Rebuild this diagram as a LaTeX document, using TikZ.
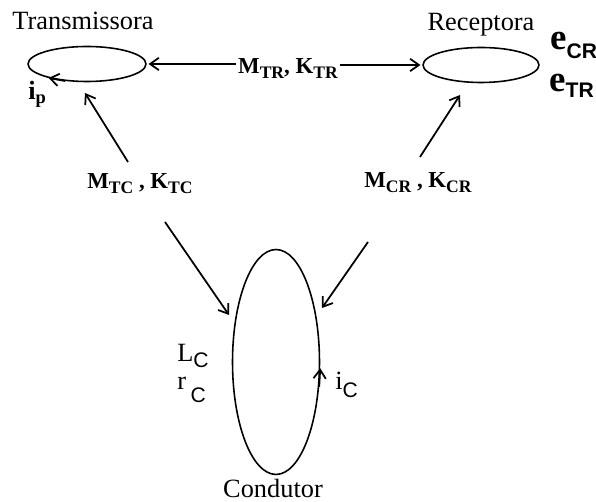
\documentclass[tikz,border=0pt]{standalone}
\usepackage{fontspec}
\setmainfont{Liberation Serif}
\newfontfamily\subsans{Liberation Sans}
\usetikzlibrary{shapes.geometric, arrows.meta, positioning}

\newcommand{\lowsub}[2][-3pt]{\raisebox{#1}{\fontsize{12}{14}\selectfont\subsans #2}}
\newcommand{\msub}[1]{\raisebox{-2.5pt}{\fontsize{10}{12}\selectfont #1}}

\begin{document}
\begin{tikzpicture}[x=0.02cm, y=-0.02cm,
  coil/.style={ellipse, draw, line width=0.9pt, inner sep=0pt},
  title/.style={font=\fontsize{15}{18}\selectfont, anchor=base},
  mlabel/.style={font=\fontsize{13}{15}\selectfont\bfseries, anchor=base, inner sep=1pt},
  plain/.style={font=\fontsize{15}{18}\selectfont, anchor=base west, inner sep=0pt},
  arrowline/.style={-{Straight Barb[length=5pt,width=7pt]}, line width=1pt}
]
  \useasboundingbox (0,0) rectangle (596,502);

  % coils
  \node[coil, minimum width=2.36cm, minimum height=0.7cm] (trans) at (87,64) {};
  \node[coil, minimum width=2.32cm, minimum height=0.7cm] (rec) at (481,65) {};
  \node[coil, minimum width=1.74cm, minimum height=4.5cm] (cond) at (276,362) {};

  % names
  \node[title] (tname) at (83,30) {Transmissora};
  \node[title] (rname) at (481,31) {Receptora};
  \node[title] (cname) at (273,498) {Condutor};

  % couplings
  \node[mlabel] (mtr) at (288,74) {M\msub{TR}, K\msub{TR}};
  \node[mlabel] (mtc) at (140,189) {M\msub{TC} , K\msub{TC}};
  \node[mlabel] (mcr) at (418,188) {M\msub{CR} , K\msub{CR}};

  \coordinate (tc-a) at (128,162);
  \coordinate (tc-b) at (85,93);
  \coordinate (cr-a) at (420,157);
  \coordinate (cr-b) at (460,95);
  \coordinate (tc-c) at (165,222);
  \coordinate (tc-d) at (229,315);
  \coordinate (cr-c) at (368,242);
  \coordinate (cr-d) at (322,308);

  \draw[arrowline, shorten >=1pt] (mtr.west |- trans.center) -- (trans.east);
  \draw[arrowline, shorten >=1pt] (mtr.east |- rec.center) -- (rec.west);
  \draw[arrowline] (tc-a) -- (tc-b);
  \draw[arrowline] (cr-a) -- (cr-b);
  \draw[arrowline] (tc-c) -- (tc-d);
  \draw[arrowline] (cr-c) -- (cr-d);

  % currents
  \draw[arrowline] (trans.218) -- (trans.200);
  \draw[arrowline] (cond.-30) -- (cond.-8);

  % other labels
  \node[plain] (ip) at (28,100) {\textbf{i}\textsubscript{\textbf{p}}};
  \node[plain] (lc) at (177,362) {L\lowsub{C}};
  \node[plain] (rc) at (177,390) {r\,\lowsub[-7pt]{C}};
  \node[plain] (ic) at (335,390) {i\lowsub[-4pt]{C}};
  \node[plain, font=\fontsize{21}{24}\selectfont\bfseries] (ecr) at (550,50) {e\lowsub[-5pt]{CR}};
  \node[plain, font=\fontsize{21}{24}\selectfont\bfseries] (etr) at (549,92) {e\lowsub[-3pt]{TR}};
\end{tikzpicture}
\end{document}
